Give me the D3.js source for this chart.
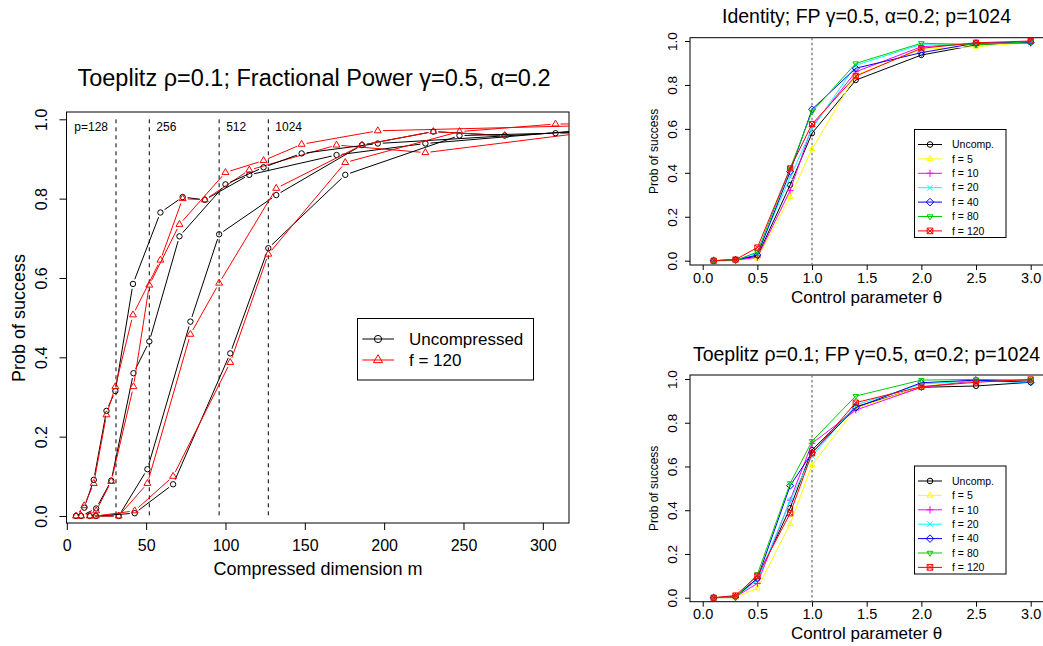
<!DOCTYPE html>
<html>
<head>
<meta charset="utf-8">
<script src="https://cdn.jsdelivr.net/npm/d3@7"></script>
<style>
body { margin: 0; background: #fff; }
svg { font-family: "Liberation Sans", Arial, sans-serif; }
</style>
</head>
<body>
<div id="chart"></div>
<script>
// ---- left panel: success vs compressed dimension m ----
var pLabels = ["p=128", "256", "512", "1024"];
var pLines = [31, 52, 96, 127];   // theta = 1 for each p

var m128 = [5.8, 11, 17, 25, 30.6, 41.7, 59, 73, 87, 115, 170, 226, 334];
var unc128 = [0, 0.021, 0.091, 0.265, 0.315, 0.585, 0.765, 0.804, 0.797, 0.86, 0.91, 0.939, 0.975];
var f120_128 = [0, 0.026, 0.082, 0.255, 0.326, 0.507, 0.645, 0.80, 0.797, 0.872, 0.935, 0.916, 0.97];

var m256 = [9, 18.5, 28, 42, 52, 71, 100, 124, 148, 196, 388];
var unc256 = [0, 0.019, 0.089, 0.36, 0.44, 0.705, 0.836, 0.879, 0.914, 0.939, 0.985];
var f120_256 = [0, 0.013, 0.087, 0.326, 0.582, 0.735, 0.866, 0.896, 0.937, 0.971, 0.99];

var m512 = [14.5, 32.7, 50.8, 77.9, 96, 132, 186, 231, 276];
var unc512 = [0, 0, 0.118, 0.49, 0.71, 0.809, 0.935, 0.969, 0.959];
var f120_512 = [0, 0, 0.082, 0.458, 0.587, 0.826, 0.935, 0.969, 0.959];

var m1024 = [18.3, 42.8, 67, 103, 127, 175.5, 247.5, 308, 369];
var unc1024 = [0, 0.007, 0.08, 0.41, 0.675, 0.86, 0.959, 0.965, 0.97];
var f120_1024 = [0, 0.013, 0.10, 0.387, 0.66, 0.891, 0.969, 0.988, 0.99];

var xTicksLeft = [0, 50, 100, 150, 200, 250, 300];
var yTicks = [0, 0.2, 0.4, 0.6, 0.8, 1.0];

// ---- right panels: success vs control parameter theta ----
var theta = [0.1, 0.3, 0.5, 0.8, 1.0, 1.4, 2.0, 2.5, 3.0];
var xTicksRight = [0, 0.5, 1, 1.5, 2, 2.5, 3];
var seriesNames = ["Uncomp.", "f = 5", "f = 10", "f = 20", "f = 40", "f = 80", "f = 120"];

var idUnc = [0, 0.005, 0.02, 0.345, 0.58, 0.822, 0.936, 0.982, 0.997];
var idF5 = [0, 0.002, 0.01, 0.29, 0.508, 0.845, 0.962, 0.974, 0.994];
var idF10 = [0, 0.003, 0.015, 0.32, 0.61, 0.86, 0.974, 0.988, 0.99];
var idF20 = [0, 0.004, 0.035, 0.38, 0.60, 0.89, 0.985, 0.988, 0.994];
var idF40 = [0, 0.003, 0.026, 0.405, 0.689, 0.876, 0.947, 0.99, 0.994];
var idF80 = [0, 0, 0.04, 0.42, 0.678, 0.898, 0.99, 0.982, 0.997];
var idF120 = [0, 0.005, 0.06, 0.42, 0.622, 0.84, 0.967, 0.992, 1.0];

var toUnc = [0, 0.005, 0.088, 0.41, 0.675, 0.873, 0.962, 0.968, 0.985];
var toF5 = [0, 0.002, 0.043, 0.337, 0.607, 0.866, 0.965, 0.995, 0.995];
var toF10 = [0, 0.004, 0.065, 0.446, 0.706, 0.858, 0.962, 0.992, 0.992];
var toF20 = [0, 0.004, 0.08, 0.444, 0.648, 0.881, 0.977, 0.992, 0.983];
var toF40 = [0, 0.003, 0.088, 0.512, 0.663, 0.869, 0.983, 0.995, 0.985];
var toF80 = [0, 0, 0.107, 0.523, 0.716, 0.922, 0.995, 0.998, 0.995];
var toF120 = [0, 0.01, 0.1, 0.386, 0.66, 0.892, 0.965, 0.985, 0.998];

var colors = ["#000000", "#FFFF00", "#FF00FF", "#00FFFF", "#0000FF", "#00CD00", "#FF0000"];
var shapes = ["circle", "tri", "plus", "cross", "diamond", "tridown", "sqx"];

var svg = d3.select("#chart").append("svg")
    .attr("width", 1043)
    .attr("height", 646);

// draws one R-style point symbol
function marker(g, shape, cx, cy, s, col) {
    var p;
    if (shape == "circle") {
        g.append("circle").attr("cx", cx).attr("cy", cy).attr("r", s)
            .attr("fill", "none").attr("stroke", col);
        return;
    }
    if (shape == "tri") {
        p = `M${cx},${cy - 1.2 * s}L${cx - 1.05 * s},${cy + 0.6 * s}L${cx + 1.05 * s},${cy + 0.6 * s}Z`;
    } else if (shape == "tridown") {
        p = `M${cx},${cy + 1.2 * s}L${cx - 1.05 * s},${cy - 0.6 * s}L${cx + 1.05 * s},${cy - 0.6 * s}Z`;
    } else if (shape == "plus") {
        p = `M${cx - 1.3 * s},${cy}H${cx + 1.3 * s}M${cx},${cy - 1.3 * s}V${cy + 1.3 * s}`;
    } else if (shape == "cross") {
        p = `M${cx - s},${cy - s}L${cx + s},${cy + s}M${cx - s},${cy + s}L${cx + s},${cy - s}`;
    } else if (shape == "diamond") {
        p = `M${cx},${cy - 1.35 * s}L${cx + 1.35 * s},${cy}L${cx},${cy + 1.35 * s}L${cx - 1.35 * s},${cy}Z`;
    } else {
        p = `M${cx - s},${cy - s}H${cx + s}V${cy + s}H${cx - s}Z` +
            `M${cx - s},${cy - s}L${cx + s},${cy + s}M${cx - s},${cy + s}L${cx + s},${cy - s}`;
    }
    g.append("path").attr("d", p).attr("fill", "none").attr("stroke", col);
}

// line with gaps round each point, like type="b"
function gappedPath(pts, gap) {
    var d = "";
    for (var i = 1; i < pts.length; i++) {
        var dx = pts[i][0] - pts[i - 1][0], dy = pts[i][1] - pts[i - 1][1];
        var len = Math.sqrt(dx * dx + dy * dy);
        if (len <= 2 * gap) continue;
        var ux = dx / len, uy = dy / len;
        d += `M${pts[i - 1][0] + ux * gap},${pts[i - 1][1] + uy * gap}L${pts[i][0] - ux * gap},${pts[i][1] - uy * gap}`;
    }
    return d;
}

// ================= left panel =================
var box = { l: 66.5, r: 569, t: 112, b: 523 };
var x = d3.scaleLinear().domain([0, 316.5]).range([66.8, 569]);
var y = d3.scaleLinear().domain([0, 1]).range([516, 119.3]);

svg.append("clipPath").attr("id", "clipL").append("rect")
    .attr("x", box.l).attr("y", box.t).attr("width", box.r - box.l).attr("height", box.b - box.t);

var xAx = svg.append("g").attr("transform", `translate(0,${box.b})`)
    .call(d3.axisBottom(x).tickValues(xTicksLeft).tickSize(7).tickFormat(d3.format("d")));
xAx.select(".domain").remove();
xAx.selectAll("text").attr("y", 28).attr("dy", 0).style("font-size", "16px").attr("fill", "#000");

var yAx = svg.append("g").attr("transform", `translate(${box.l},0)`)
    .call(d3.axisLeft(y).tickValues(yTicks).tickSize(7).tickFormat(d3.format(".1f")));
yAx.select(".domain").remove();
yAx.selectAll("text").attr("transform", "rotate(-90)").attr("x", 0).attr("y", -20).attr("dy", 0)
    .attr("text-anchor", "middle").style("font-size", "16px").attr("fill", "#000");

svg.append("rect").attr("x", box.l).attr("y", box.t).attr("width", box.r - box.l).attr("height", box.b - box.t)
    .attr("fill", "none").attr("stroke", "#000");

svg.append("text").attr("x", 314).attr("y", 86).attr("text-anchor", "middle")
    .style("font-size", "23.5px").text("Toeplitz ρ=0.1; Fractional Power γ=0.5, α=0.2");
svg.append("text").attr("x", 318).attr("y", 574.5).attr("text-anchor", "middle")
    .style("font-size", "18px").text("Compressed dimension m");
svg.append("text").attr("transform", "translate(24.5,318) rotate(-90)").attr("text-anchor", "middle")
    .style("font-size", "18px").text("Prob of success");

// theta = 1 reference lines
var vl = svg.append("g");
pLines.forEach(function (v, i) {
    vl.append("line").attr("x1", x(v)).attr("x2", x(v)).attr("y1", y(1)).attr("y2", y(0))
        .attr("stroke", "#000").attr("stroke-dasharray", "4,4");
    vl.append("text").attr("x", i == 0 ? x(v) - 8 : x(v) + 7).attr("y", 131)
        .attr("text-anchor", i == 0 ? "end" : "start")
        .style("font-size", "12px").text(pLabels[i]);
});

var leftSeries = [
    [m128, unc128, f120_128],
    [m256, unc256, f120_256],
    [m512, unc512, f120_512],
    [m1024, unc1024, f120_1024]
];
var plotL = svg.append("g").attr("clip-path", "url(#clipL)");
leftSeries.forEach(function (s) {
    [[s[1], "#000", "circle", 2.7], [s[2], "#FF0000", "tri", 3.3]].forEach(function (k) {
        var pts = s[0].map(function (m, i) { return [x(m), y(k[0][i])]; });
        plotL.append("path").attr("d", gappedPath(pts, 5)).attr("fill", "none").attr("stroke", k[1]);
        pts.forEach(function (p) { marker(plotL, k[2], p[0], p[1], k[3], k[1]); });
    });
});

// legend
var lg = svg.append("g");
lg.append("rect").attr("x", 357.5).attr("y", 318.5).attr("width", 176).attr("height", 61.5)
    .attr("fill", "#fff").attr("stroke", "#000");
[["Uncompressed", "#000", "circle", 3.6, 339], ["f = 120", "#FF0000", "tri", 4.4, 360]].forEach(function (e) {
    lg.append("line").attr("x1", 362.3).attr("x2", 394).attr("y1", e[4]).attr("y2", e[4])
        .attr("stroke", e[1]);
    marker(lg, e[2], 378, e[4], e[3], e[1]);
    lg.append("text").attr("x", 409).attr("y", e[4] + 6).style("font-size", "17px").text(e[0]);
});

// ================= right panels =================
function smallPanel(top, bottom, y0, y1, title, data) {
    var b = { l: 690, r: 1043.8, t: top, b: bottom };
    var xs = d3.scaleLinear().domain([0, 3]).range([702.7, 1030.7]);
    var ys = d3.scaleLinear().domain([0, 1]).range([y0, y1]);
    var g = svg.append("g");

    var xa = g.append("g").attr("transform", `translate(0,${b.b})`)
        .call(d3.axisBottom(xs).tickValues(xTicksRight).tickSize(5).tickFormat(d3.format(".1f")));
    xa.select(".domain").remove();
    xa.selectAll("text").attr("y", 17.5).attr("dy", 0).style("font-size", "14.5px").attr("fill", "#000");

    var ya = g.append("g").attr("transform", `translate(${b.l},0)`)
        .call(d3.axisLeft(ys).tickValues(yTicks).tickSize(5).tickFormat(d3.format(".1f")));
    ya.select(".domain").remove();
    ya.selectAll("text").attr("transform", "rotate(-90)").attr("x", 0).attr("y", -13.5).attr("dy", 0)
        .attr("text-anchor", "middle").style("font-size", "13.5px").attr("fill", "#000");

    g.append("rect").attr("x", b.l).attr("y", b.t).attr("width", b.r - b.l).attr("height", b.b - b.t)
        .attr("fill", "none").attr("stroke", "#000");

    g.append("text").attr("x", 866.5).attr("y", b.t - 14.5).attr("text-anchor", "middle")
        .style("font-size", "19.5px").text(title);
    g.append("text").attr("x", 866.5).attr("y", b.b + 37.5).attr("text-anchor", "middle")
        .style("font-size", "17px").text("Control parameter θ");
    g.append("text").attr("transform", `translate(657.5,${(b.t + b.b) / 2}) rotate(-90)`)
        .attr("text-anchor", "middle").style("font-size", "12px").text("Prob of success");

    g.append("line").attr("x1", xs(1)).attr("x2", xs(1)).attr("y1", b.t).attr("y2", b.b)
        .attr("stroke", "#777").attr("stroke-width", 1.3).attr("stroke-dasharray", "2.5,2.5");

    var line = d3.line().x(function (d, i) { return xs(theta[i]); }).y(function (d) { return ys(d); });
    data.forEach(function (vals, k) {
        g.append("path").attr("d", line(vals)).attr("fill", "none").attr("stroke", colors[k]);
        vals.forEach(function (v, i) { marker(g, shapes[k], xs(theta[i]), ys(v), 2.6, colors[k]); });
    });

    // legend
    var lt = (top < 300) ? 129.5 : 466;
    var leg = g.append("g");
    leg.append("rect").attr("x", 914.5).attr("y", lt).attr("width", 91.5).attr("height", 108)
        .attr("fill", "#fff").attr("stroke", "#000");
    seriesNames.forEach(function (nm, k) {
        var ly = lt + 15 + k * 14.4;
        leg.append("line").attr("x1", 918).attr("x2", 942).attr("y1", ly).attr("y2", ly)
            .attr("stroke", colors[k]);
        marker(leg, shapes[k], 930, ly, 2.8, colors[k]);
        leg.append("text").attr("x", 952).attr("y", ly + 3.7).style("font-size", "10.5px").text(nm);
    });
}

smallPanel(37.7, 265, 260.7, 41, "Identity; FP γ=0.5, α=0.2; p=1024",
    [idUnc, idF5, idF10, idF20, idF40, idF80, idF120]);
smallPanel(375, 601.7, 597.7, 379, "Toeplitz ρ=0.1; FP γ=0.5, α=0.2; p=1024",
    [toUnc, toF5, toF10, toF20, toF40, toF80, toF120]);
</script>
</body>
</html>
